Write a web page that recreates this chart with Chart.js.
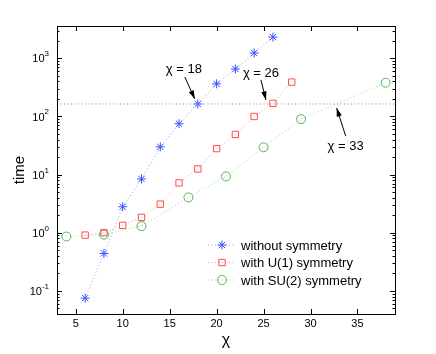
<!DOCTYPE html>
<html>
<head>
<meta charset="utf-8">
<script src="https://cdn.jsdelivr.net/npm/chart.js@4/dist/chart.umd.min.js"></script>
<style>
  html, body { margin: 0; padding: 0; background: #fff; }
  #c { display: block; }
</style>
</head>
<body>
<canvas id="c" width="436" height="354"></canvas>
<script>
// values
const chiNoSym = [6, 8, 10, 12, 14, 16, 18, 20, 22, 24, 26];
const timeNoSym = [0.075, 0.44, 2.8, 8.4, 30, 75, 164, 365, 655, 1235, 2320];
const chiU1 = [6, 8, 10, 12, 14, 16, 18, 20, 22, 24, 26, 28];
const timeU1 = [0.91, 1.0, 1.34, 1.84, 3.1, 7.2, 12.5, 28, 49, 100, 168, 390];
const chiSU2 = [4, 8, 12, 17, 21, 25, 29, 38];
const timeSU2 = [0.86, 0.93, 1.3, 4.05, 9.3, 29.5, 90, 381];
const refTime = 164;
const xTicks = [5, 10, 15, 20, 25, 30, 35];
const yTicks = [0.1, 1, 10, 100, 1000];
const yExp = ['-1', '0', '1', '2', '3'];
const seriesNames = ['without symmetry', 'with U(1) symmetry', 'with SU(2) symmetry'];
const noteLabels = ['\u03c7 = 18', '\u03c7 = 26', '\u03c7 = 33'];
const noteChi = [18, 26, 33];

// pixel offsets of each note relative to where chi meets the reference line
const noteOffsets = [
  { text: [-14, -35], from: [-13, -27], to: [-3, -5] },
  { text: [-12, -31], from: [-12, -24], to: [-7, -4] },
  { text: [7, 42], from: [7, 32], to: [-2, 4] }
];

const BLUE = '#3a50ff', RED = '#ff4d4d', GREEN = '#4cb84c';
const FONT = '"Liberation Sans", Arial, sans-serif';

function pts(xs, ys) { return xs.map((x, i) => ({ x: x, y: ys[i] })); }

const styles = [
  { color: BLUE, line: 'rgba(58,80,255,0.55)', shape: 'star' },
  { color: RED, line: 'rgba(255,77,77,0.55)', shape: 'rect' },
  { color: GREEN, line: 'rgba(76,184,76,0.55)', shape: 'circle' }
];

// inward ticks, box, superscript labels, legend, annotations
const decor = {
  id: 'decor',
  afterDraw(chart) {
    const ctx = chart.ctx, a = chart.chartArea;
    const xs = chart.scales.x, ys = chart.scales.y;
    ctx.save();
    ctx.strokeStyle = '#000';
    ctx.lineWidth = 1;
    ctx.strokeRect(Math.round(a.left) + 0.5, Math.round(a.top) + 0.5,
      Math.round(a.right - a.left), Math.round(a.bottom - a.top));
    ctx.beginPath();
    xTicks.forEach(v => {
      const p = Math.round(xs.getPixelForValue(v)) + 0.5;
      ctx.moveTo(p, a.bottom); ctx.lineTo(p, a.bottom - 5);
      ctx.moveTo(p, a.top); ctx.lineTo(p, a.top + 5);
    });
    for (let e = -2; e <= 3; e++) {
      for (let m = 1; m <= 9; m++) {
        const v = m * Math.pow(10, e);
        if (v < ys.min || v > ys.max) continue;
        const p = Math.round(ys.getPixelForValue(v)) + 0.5;
        const len = m === 1 ? 5 : 2.5;
        ctx.moveTo(a.left, p); ctx.lineTo(a.left + len, p);
        ctx.moveTo(a.right, p); ctx.lineTo(a.right - len, p);
      }
    }
    ctx.stroke();

    // tick labels
    ctx.fillStyle = '#000';
    ctx.font = '11px ' + FONT;
    ctx.textAlign = 'center';
    ctx.textBaseline = 'top';
    xTicks.forEach(v => ctx.fillText(String(v), xs.getPixelForValue(v), a.bottom + 4));
    yTicks.forEach((v, i) => {
      const p = ys.getPixelForValue(v);
      ctx.font = '8px ' + FONT;
      const ew = ctx.measureText(yExp[i]).width;
      ctx.textAlign = 'left';
      ctx.textBaseline = 'alphabetic';
      ctx.fillText(yExp[i], 49 - ew, p - 2);
      ctx.font = '11px ' + FONT;
      ctx.textAlign = 'right';
      ctx.textBaseline = 'middle';
      ctx.fillText('10', 49 - ew, p + 1);
    });

    // axis titles
    ctx.font = '16px ' + FONT;
    ctx.textAlign = 'center';
    ctx.textBaseline = 'middle';
    ctx.fillText('\u03c7', (a.left + a.right) / 2, 341);
    ctx.save();
    ctx.translate(20, (a.top + a.bottom) / 2);
    ctx.rotate(-Math.PI / 2);
    ctx.font = '15px ' + FONT;
    ctx.fillText('time', 0, 0);
    ctx.restore();

    // annotations with arrows
    const ty = ys.getPixelForValue(refTime);
    noteLabels.forEach((label, i) => {
      const tx = xs.getPixelForValue(noteChi[i]);
      const o = noteOffsets[i];
      const sx = tx + o.from[0], sy = ty + o.from[1];
      const ex = tx + o.to[0], ey = ty + o.to[1];
      ctx.strokeStyle = '#000';
      ctx.beginPath(); ctx.moveTo(sx, sy); ctx.lineTo(ex, ey); ctx.stroke();
      const ang = Math.atan2(ey - sy, ex - sx);
      ctx.fillStyle = '#000';
      ctx.beginPath();
      ctx.moveTo(ex, ey);
      ctx.lineTo(ex - 9 * Math.cos(ang - 0.3), ey - 9 * Math.sin(ang - 0.3));
      ctx.lineTo(ex - 9 * Math.cos(ang + 0.3), ey - 9 * Math.sin(ang + 0.3));
      ctx.closePath(); ctx.fill();
      ctx.font = '13px ' + FONT;
      ctx.textAlign = 'center';
      ctx.textBaseline = 'middle';
      ctx.fillText(label, tx + o.text[0], ty + o.text[1]);
    });

    // legend
    seriesNames.forEach((name, i) => {
      const y = 245 + i * 17.5;
      const st = styles[i];
      ctx.save();
      ctx.strokeStyle = st.line;
      ctx.setLineDash([1, 2.5]);
      ctx.beginPath(); ctx.moveTo(208, y); ctx.lineTo(236, y); ctx.stroke();
      ctx.restore();
      ctx.strokeStyle = st.color;
      ctx.fillStyle = st.shape === 'star' ? st.color : 'rgba(0,0,0,0)';
      Chart.helpers.drawPoint(ctx, { pointStyle: st.shape, radius: 4.5, borderWidth: 1 }, 222, y);
      ctx.fillStyle = '#000';
      ctx.font = '13px ' + FONT;
      ctx.textAlign = 'left';
      ctx.textBaseline = 'middle';
      ctx.fillText(name, 241, y + 1);
    });
    ctx.restore();
  }
};

function series(label, xs, ys, st) {
  return {
    label: label,
    data: pts(xs, ys),
    showLine: true,
    borderColor: st.line,
    borderWidth: 1,
    borderDash: [1, 2.5],
    pointStyle: st.shape,
    pointRadius: 4.5,
    pointBorderColor: st.color,
    pointBackgroundColor: 'rgba(0,0,0,0)',
    pointBorderWidth: 1
  };
}

new Chart(document.getElementById('c'), {
  type: 'scatter',
  data: {
    datasets: [
      {
        label: 'ref',
        data: [{ x: 3, y: refTime }, { x: 39, y: refTime }],
        showLine: true,
        borderColor: '#888',
        borderWidth: 1,
        borderDash: [1, 2.5],
        pointRadius: 0
      },
      series(seriesNames[0], chiNoSym, timeNoSym, styles[0]),
      series(seriesNames[1], chiU1, timeU1, styles[1]),
      series(seriesNames[2], chiSU2, timeSU2, styles[2])
    ]
  },
  options: {
    responsive: false,
    animation: false,
    layout: { padding: { left: 0, right: 41, top: 26, bottom: 0 } },
    plugins: { legend: { display: false }, tooltip: { enabled: false } },
    scales: {
      x: {
        type: 'linear', min: 3, max: 39,
        grid: { display: false }, border: { display: false },
        ticks: { display: false },
        afterFit(s) { s.height = 40; }
      },
      y: {
        type: 'logarithmic', min: 0.04, max: 3600,
        grid: { display: false }, border: { display: false },
        ticks: { display: false },
        afterFit(s) { s.width = 57; }
      }
    }
  },
  plugins: [decor]
});
</script>
</body>
</html>
